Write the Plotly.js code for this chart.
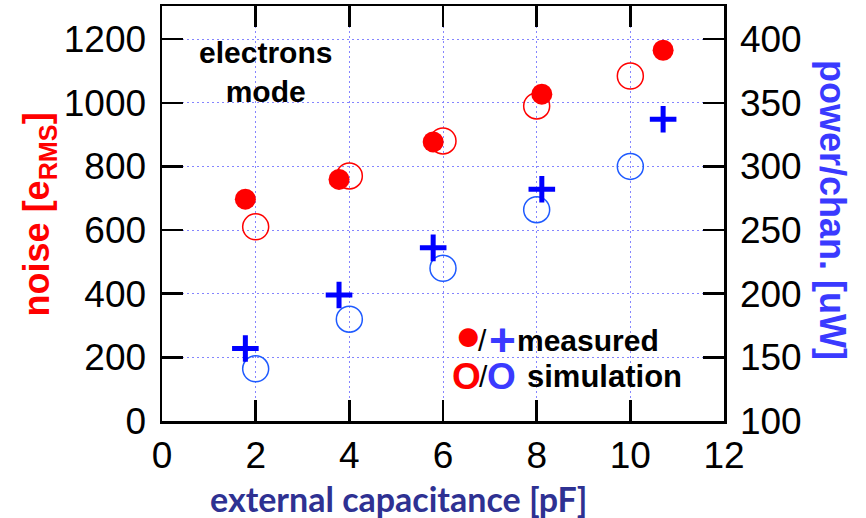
<!DOCTYPE html>
<html>
<head>
<meta charset="utf-8">
<script src="https://cdn.plot.ly/plotly-3.0.1.min.js"></script>
<style>html,body{margin:0;padding:0;background:#fff;}#chart{width:866px;height:518px;}</style>
</head>
<body>
<div id="chart"></div>
<script>
// Measured points (filled red circles / blue crosses)
const capMeasured = [1.78, 3.78, 5.79, 8.11, 10.70];
const noiseMeasured = [697, 759, 877, 1027, 1165];
const powerMeasured = [157, 199, 236, 282, 337];
// Simulation points (open circles)
const capSim = [2, 4, 6, 8, 10];
const noiseSim = [610, 770, 880, 990, 1084];
const powerSim = [141, 180, 220, 266, 300];
// Tick labels
const xTicks = [0, 2, 4, 6, 8, 10, 12];
const noiseTicks = [0, 200, 400, 600, 800, 1000, 1200];
const powerTicks = [100, 150, 200, 250, 300, 350, 400];

const FONT = "Liberation Sans, Arial, sans-serif";

const traces = [
  {x: capSim, y: noiseSim, type: 'scatter', mode: 'markers', yaxis: 'y', hoverinfo: 'none',
   marker: {symbol: 'circle-open', size: 26, color: '#ff0000', line: {width: 1.5, color: '#ff0000'}}},
  {x: capMeasured, y: noiseMeasured, type: 'scatter', mode: 'markers', yaxis: 'y', hoverinfo: 'none',
   marker: {symbol: 'circle', size: 21, color: '#ff0000', line: {width: 0}}},
  {x: capSim, y: powerSim, type: 'scatter', mode: 'markers', yaxis: 'y2', hoverinfo: 'none',
   marker: {symbol: 'circle-open', size: 26, color: '#1e5aff', line: {width: 1.5, color: '#1e5aff'}}},
  {x: capMeasured, y: powerMeasured, type: 'scatter', mode: 'markers', yaxis: 'y2', hoverinfo: 'none',
   marker: {symbol: 'cross-thin-open', size: 19, color: '#0000ff', line: {width: 5, color: '#0000ff'}}}
];

const axisCommon = {
  showline: true, linecolor: '#000', linewidth: 2.5,
  ticks: 'inside', ticklen: 21, tickwidth: 2.5, tickcolor: '#000',
  tickfont: {family: FONT, size: 37, color: '#000'},
  zeroline: false
};

// helpers converting reference pixel position to paper fraction
const PX = p => (p - 162.5) / 561.5;
const PY = p => (421 - p) / 415;
function note(text, cx, cy, size, color, anchor, extra) {
  return Object.assign({xref: 'paper', yref: 'paper', x: PX(cx), y: PY(cy), xanchor: anchor || 'center',
    yanchor: 'middle', showarrow: false, borderpad: 0, text: text,
    font: {family: FONT, size: size, color: color}}, extra || {});
}

const layout = {
  width: 866, height: 518,
  margin: {l: 162, r: 142, t: 6, b: 97},
  paper_bgcolor: '#fff', plot_bgcolor: '#fff',
  showlegend: false,
  xaxis: Object.assign({}, axisCommon, {
    range: [0, 12], tickvals: xTicks, ticktext: xTicks.map(String),
    mirror: 'ticks', showgrid: true, gridcolor: '#8585ff', gridwidth: 1, griddash: '2px,3px',
    ticklabelstandoff: 0
  }),
  yaxis: Object.assign({}, axisCommon, {
    range: [0, 1304], tickvals: noiseTicks, ticktext: noiseTicks.map(String),
    showgrid: true, gridcolor: '#8585ff', gridwidth: 1, griddash: '2px,3px',
    ticklabelstandoff: 6
  }),
  yaxis2: Object.assign({}, axisCommon, {
    range: [100, 426], tickvals: powerTicks, ticktext: powerTicks.map(String),
    overlaying: 'y', side: 'right', showgrid: false,
    ticklabelstandoff: 6
  }),
  annotations: [
    note('<b>electrons<br>mode</b>', 266, 72, 30, '#000'),
    // legend row 1
    note('●', 469, 334, 44, '#ff0000'),
    note('/', 483, 340, 30, '#000'),
    note('<b>+</b>', 503, 340, 46, '#3a3aff'),
    note('<b>measured</b>', 516, 340, 30, '#000', 'left'),
    // legend row 2
    note('<b>O</b>', 467, 376, 37, '#ff0000'),
    note('/', 484, 376, 30, '#000'),
    note('<b>O</b>', 502, 376, 37, '#3a3aff'),
    note('<b>simulation</b>', 526, 376, 31, '#000', 'left'),
    // axis titles
    note('<b>noise [e<sub>RMS</sub>]</b>', 40, 214, 36, '#ff0000', 'center', {textangle: -90}),
    note('<b>power/chan. [uW]</b>', 832, 210, 36, '#3a3aff', 'center', {textangle: 90}),
    Object.assign(note('<b>external capacitance [pF]</b>', 399, 498, 34, '#2e3192'),
      {font: {family: 'Lato, sans-serif', size: 34, color: '#2e3192'}})
  ]
};

Plotly.newPlot('chart', traces, layout, {staticPlot: true, displayModeBar: false});
</script>
</body>
</html>
